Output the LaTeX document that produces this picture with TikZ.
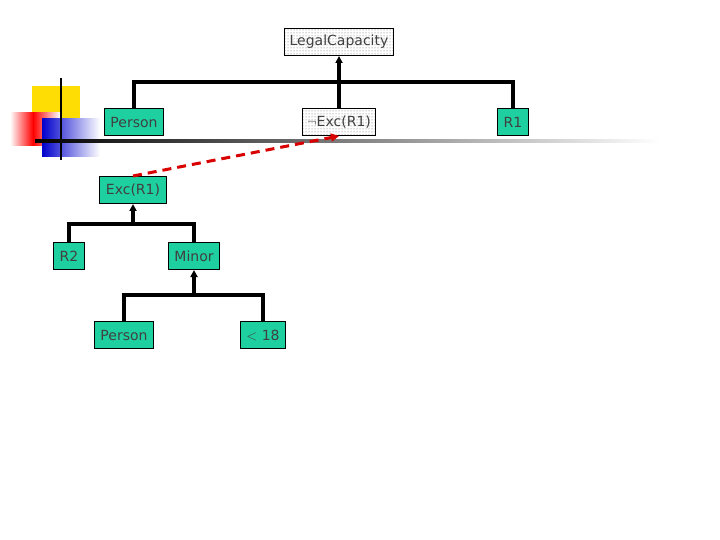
\documentclass[tikz,border=0pt]{standalone}
\usepackage{fontspec}
\setmainfont{DejaVu Sans}
\usetikzlibrary{patterns,arrows.meta}
\definecolor{boxgreen}{RGB}{30,208,160}
\begin{document}
\begin{tikzpicture}[x=1pt,y=-1pt,line width=3.2pt,font=\fontsize{14}{16}\selectfont\color{black!75},
  leaf/.style={draw=black,line width=1pt,fill=boxgreen,minimum height=27pt,inner xsep=6pt},
  dotbox/.style={draw=black,line width=1pt,pattern=dots,pattern color=black!60,minimum height=27pt,inner xsep=5pt}]
   \useasboundingbox (0,0) rectangle (720,540);
   % corner decoration
   \fill[yellow!80!orange] (32,86) rectangle (80,120);
   \shade[left color=white,right color=red] (10,113) rectangle (33,146);
   \shade[left color=red,right color=white] (33,113) rectangle (60,146);
   \shade[left color=blue!80!black,right color=white] (42,119) rectangle (100,157);
   \draw[line width=2.5pt] (61,78) -- (61,160);
   \shade[left color=black,right color=white] (35,140) rectangle (660,143);

      \path (339,42) node[dotbox] (lc)  {LegalCapacity};
      \path (134,122) node[leaf] (p1)  {Person};
      \path (339,122) node[dotbox] (nexc)  {$\neg$Exc(R1)};
      \path (513,122) node[leaf] (r1)  {R1};
      \path (133,190) node[leaf] (exc)  {Exc(R1)};
      \path (69,256) node[leaf] (r2)  {R2};
      \path (194,256) node[leaf] (minor)  {Minor};
      \path (124,335) node[leaf] (p2)  {Person};
      \path (263,335) node[leaf] (lt)  {$<$ 18};

      \draw (p1.north) |- (339,82) -| (r1.north);
      \draw (nexc.north) -- (339,82);
      \draw[-{Triangle[length=7pt,width=7pt]}] (339,82) -- (lc.south);
      \draw (r2.north) |- (133,224) -| (minor.north);
      \draw[-{Triangle[length=7pt,width=7pt]}] (133,224) -- (exc.south);
      \draw (p2.north) |- (194,295) -| (lt.north);
      \draw[-{Triangle[length=7pt,width=7pt]}] (194,295) -- (minor.south);
      \draw[red!85!black,line width=3pt,dash pattern=on 9pt off 6pt,-{Triangle[length=8pt,width=8pt]}] (exc.north) -- (nexc.south);

   \end{tikzpicture}
\end{document}
